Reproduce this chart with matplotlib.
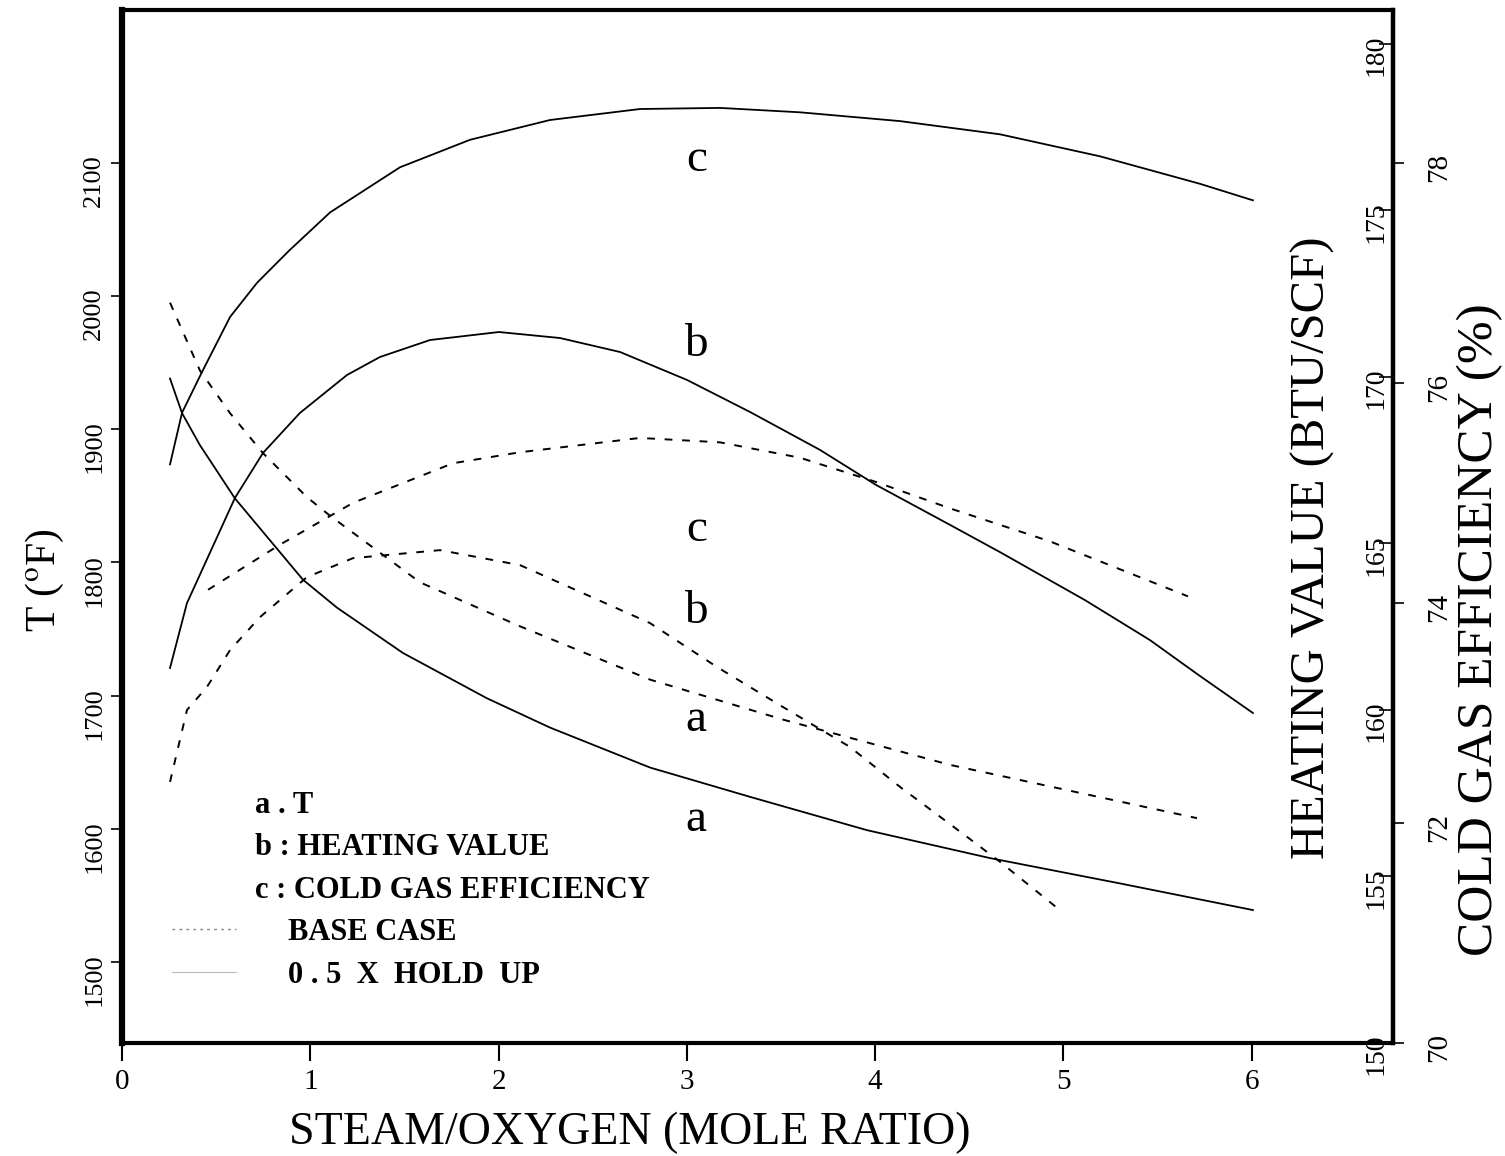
import matplotlib
matplotlib.use('Agg')
import matplotlib.pyplot as plt
from matplotlib.lines import Line2D

plt.rcParams['font.family'] = 'Liberation Serif'
plt.rcParams['mathtext.fontset'] = 'stix'

# a : T (deg F)
x_t_hold = [0.255, 0.319, 0.414, 0.600, 0.961, 1.142, 1.492, 1.938, 2.273, 2.804, 3.335, 3.956, 4.610, 5.300, 6.006]
t_hold = [1938, 1912, 1888, 1848, 1787, 1766, 1732, 1698, 1676, 1646, 1624, 1599, 1578, 1559, 1539]
x_t_base = [0.255, 0.414, 0.574, 0.749, 0.982, 1.105, 1.583, 2.114, 2.804, 3.510, 4.397, 5.709]
t_base = [1995, 1944, 1912, 1882, 1849, 1835, 1785, 1752, 1712, 1682, 1648, 1608]

# b : heating value (BTU/SCF)
x_hv_hold = [0.255, 0.345, 0.600, 0.749, 0.945, 1.195, 1.370, 1.636, 2.002, 2.326, 2.645, 3.001,
             3.335, 3.707, 4.004, 4.397, 4.663, 5.114, 5.459, 5.725, 6.006]
hv_hold = [161.26, 163.21, 166.37, 167.72, 168.92, 170.06, 170.60, 171.11, 171.35, 171.17, 170.75, 169.91,
           168.95, 167.81, 166.76, 165.56, 164.74, 163.30, 162.10, 161.02, 159.91]
x_hv_base = [0.255, 0.345, 0.451, 0.574, 0.733, 0.982, 1.227, 1.689, 2.114, 2.804, 3.160, 3.510,
             3.866, 4.132, 4.488, 4.663, 4.981]
hv_base = [157.84, 160.00, 160.69, 161.80, 162.79, 163.99, 164.56, 164.80, 164.35, 162.61, 161.29, 160.09,
           158.89, 157.69, 156.19, 155.44, 153.99]

# c : cold gas efficiency (%)
x_cge_hold = [0.255, 0.319, 0.425, 0.574, 0.717, 0.892, 1.105, 1.476, 1.848, 2.273, 2.751, 3.176,
              3.601, 4.132, 4.663, 5.194, 5.725, 6.006]
cge_hold = [75.26, 75.73, 76.10, 76.60, 76.91, 77.21, 77.55, 77.96, 78.21, 78.39, 78.49, 78.50,
            78.46, 78.38, 78.26, 78.06, 77.81, 77.66]
x_cge_base = [0.457, 0.839, 1.227, 1.758, 2.114, 2.751, 3.176, 3.601, 4.004, 4.397, 4.928, 5.661]
cge_base = [74.12, 74.53, 74.91, 75.27, 75.37, 75.50, 75.46, 75.32, 75.10, 74.86, 74.56, 74.06]

x_ticks = [0, 1, 2, 3, 4, 5, 6]
t_ticks = [1500, 1600, 1700, 1800, 1900, 2000, 2100]
hv_ticks = [150, 155, 160, 165, 170, 175, 180]
cge_ticks = [70, 72, 74, 76, 78]

W, H = 1505, 1156
fig = plt.figure(figsize=(W / 100, H / 100), dpi=100)
ax = fig.add_axes([122 / W, 113 / H, 1271 / W, 1033 / H])
ax2 = ax.twinx()
ax3 = ax.twinx()

ax.set_xlim(0, 6.75)
ax.set_ylim(1439.2, 2214.7)
ax2.set_ylim(150.0, 181.02)
ax3.set_ylim(70.0, 79.39)

solid = dict(color='black', lw=1.3, ls='-')
dashed = dict(color='black', lw=1.4, ls=(0, (4, 5)))

ax.plot(x_t_hold, t_hold, **solid)
ax.plot(x_t_base, t_base, **dashed)
ax2.plot(x_hv_hold, hv_hold, **solid)
ax2.plot(x_hv_base, hv_base, **dashed)
ax3.plot(x_cge_hold, cge_hold, **solid)
ax3.plot(x_cge_base, cge_base, **dashed)

# ticks
ax.set_xticks(x_ticks)
ax.set_xticklabels([str(v) for v in x_ticks])
ax.tick_params(axis='x', direction='out', length=13, width=1.5, labelsize=21, pad=6)
ax.set_yticks(t_ticks)
ax.set_yticklabels([str(v) for v in t_ticks])
ax.tick_params(axis='y', direction='out', length=8, width=1.2, labelsize=19, labelrotation=90, pad=4)

ax2.set_yticks(hv_ticks)
ax2.set_yticklabels([str(v) for v in hv_ticks])
ax2.tick_params(axis='y', direction='in', length=10, width=1.2, labelsize=20, labelrotation=90, pad=-21)
ax3.set_yticks(cge_ticks)
ax3.set_yticklabels([str(v) for v in cge_ticks])
ax3.tick_params(axis='y', direction='out', length=8, width=1.2, labelsize=21, labelrotation=90, pad=16)

for s in ax.spines.values():
    s.set_linewidth(3)
ax.spines['left'].set_linewidth(4.5)
for a in (ax2, ax3):
    for name, s in a.spines.items():
        s.set_visible(name == 'right')
        s.set_linewidth(3)

# axis titles
fig.text(630 / W, 1 - 1133 / H, 'STEAM/OXYGEN (MOLE RATIO)', fontsize=33, ha='center', va='center')
fig.text(45 / W, 1 - 580 / H, r'T ($^{\mathrm{o}}$F)', fontsize=30, rotation=90, ha='center', va='center')
fig.text(1313 / W, 1 - 548 / H, 'HEATING VALUE (BTU/SCF)', fontsize=35, rotation=90, ha='center', va='center')
fig.text(1480 / W, 1 - 630 / H, 'COLD GAS EFFICIENCY (%)', fontsize=37, rotation=90, ha='center', va='center')

# curve labels
tr = ax.get_xaxis_transform()
for lab, yf in [('c', 0.855), ('b', 0.676), ('c', 0.497), ('b', 0.417), ('a', 0.313), ('a', 0.216)]:
    ax.text(3.05, yf, lab, transform=tr, fontsize=34, ha='center', va='center')

# key
for txt, yf in [('a . T', 0.230), ('b : HEATING VALUE', 0.189), ('c : COLD GAS EFFICIENCY', 0.148)]:
    ax.text(0.105, yf, txt, transform=ax.transAxes, fontsize=22, fontweight='bold', ha='left', va='center')

handles = [Line2D([], [], color='#888888', lw=1.0, ls=(0, (2, 3))),
           Line2D([], [], color='#bbbbbb', lw=0.8, ls='-')]
ax.legend(handles, ['BASE CASE', '0 . 5  X  HOLD  UP'], loc='upper left', bbox_to_anchor=(0.039, 0.121),
          frameon=False, borderaxespad=0, borderpad=0, handlelength=2.1, handletextpad=1.7,
          labelspacing=0.45, prop={'family': 'Liberation Serif', 'size': 22, 'weight': 'bold'})

fig.savefig('out.png', dpi=100)
